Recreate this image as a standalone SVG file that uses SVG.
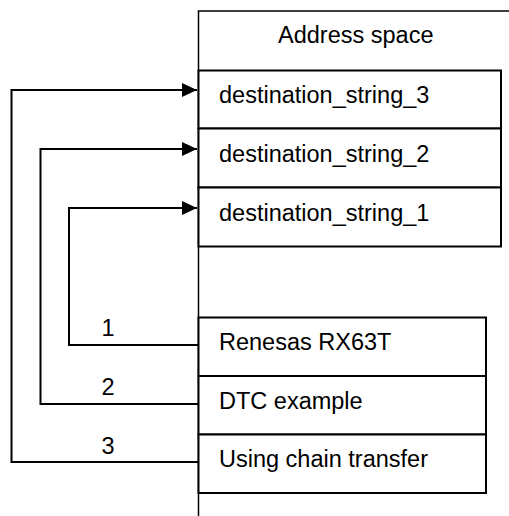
<svg xmlns="http://www.w3.org/2000/svg" width="509" height="516" viewBox="0 0 509 516">
<defs>
<style>
text{font-family:"Liberation Sans",Arial,sans-serif;font-size:23.5px;fill:#000}
.num{text-anchor:middle}
.box{fill:#fff;stroke:#000;stroke-width:2}
.wire{fill:none;stroke:#000;stroke-width:2}
.thin{fill:none;stroke:#000;stroke-width:1.5}
</style>
<marker id="ah" markerUnits="userSpaceOnUse" markerWidth="15" markerHeight="14" refX="15" refY="7" orient="auto">
<path d="M0,0 L15,7 L0,14 Z" fill="#000"/>
</marker>
</defs>
<rect width="509" height="516" fill="#fff"/>
<g id="address-space">
<path class="thin" d="M509,11 H198.5 V516"/>
<text x="278" y="43">Address space</text>
</g>
<g id="dest3">
<rect class="box" x="198.5" y="70.5" width="302.5" height="58"/>
<text x="219" y="103">destination_string_3</text>
</g>
<g id="dest2">
<rect class="box" x="198.5" y="128.5" width="302.5" height="59"/>
<text x="219" y="162">destination_string_2</text>
</g>
<g id="dest1">
<rect class="box" x="198.5" y="187.5" width="302.5" height="59"/>
<text x="219" y="221">destination_string_1</text>
</g>
<g id="src1">
<rect class="box" x="198.5" y="317.5" width="287.5" height="58.5"/>
<text x="219" y="350">Renesas RX63T</text>
</g>
<g id="src2">
<rect class="box" x="198.5" y="376" width="287.5" height="58.5"/>
<text x="219" y="409">DTC example</text>
</g>
<g id="src3">
<rect class="box" x="198.5" y="434.5" width="287.5" height="58.5"/>
<text x="219" y="467">Using chain transfer</text>
</g>
<g id="connectors">
<path class="wire" d="M198,345 H69 V208 H197" marker-end="url(#ah)"/>
<path class="wire" d="M198,404 H40.5 V149 H197" marker-end="url(#ah)"/>
<path class="wire" d="M198,462 H11.5 V90 H197" marker-end="url(#ah)"/>
<text class="num" x="108" y="336">1</text>
<text class="num" x="108" y="395">2</text>
<text class="num" x="108" y="454">3</text>
</g>
</svg>
